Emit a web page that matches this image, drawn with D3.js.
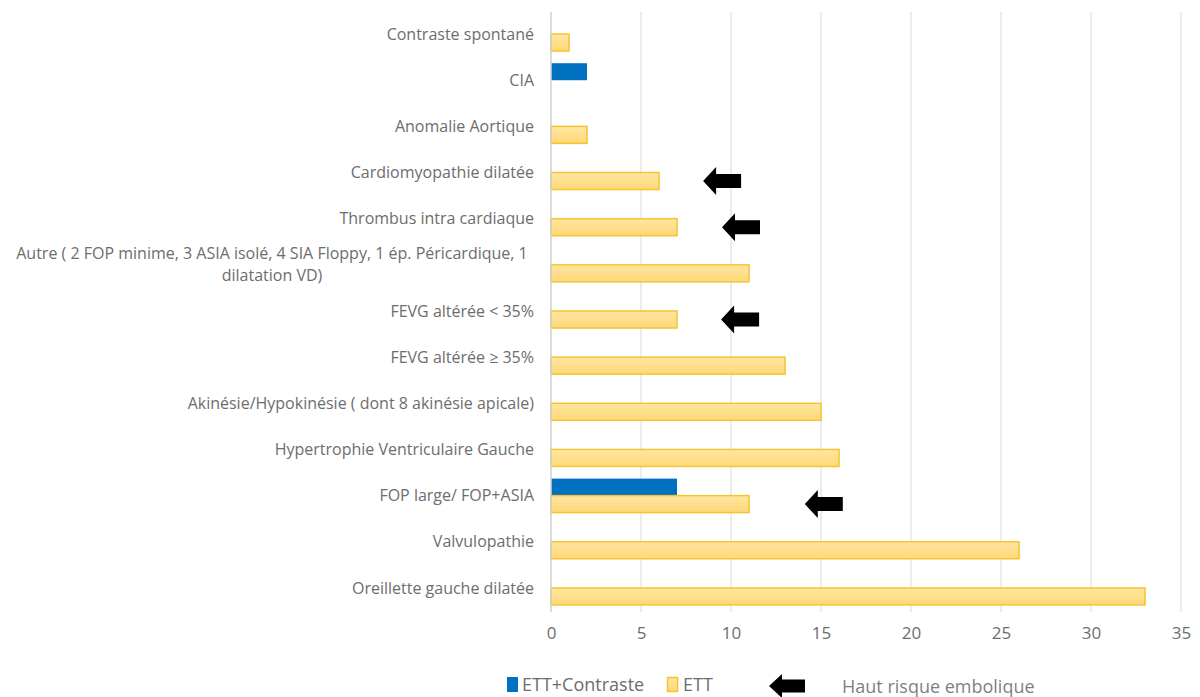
<!DOCTYPE html>
<html>
<head>
<meta charset="utf-8">
<script src="https://cdn.jsdelivr.net/npm/d3@7"></script>
<style>
  html, body { margin: 0; padding: 0; background: #ffffff; }
  svg { display: block; }
</style>
</head>
<body>
<svg id="chart" width="1200" height="697"></svg>
<script>
// ---- data ----
const categories = [
  "Contraste spontané",
  "CIA",
  "Anomalie Aortique",
  "Cardiomyopathie dilatée",
  "Thrombus intra cardiaque",
  "Autre ( 2 FOP minime, 3 ASIA isolé, 4 SIA Floppy, 1 ép. Péricardique, 1|dilatation VD)",
  "FEVG altérée < 35%",
  "FEVG altérée ≥ 35%",
  "Akinésie/Hypokinésie ( dont 8 akinésie apicale)",
  "Hypertrophie Ventriculaire Gauche",
  "FOP large/ FOP+ASIA",
  "Valvulopathie",
  "Oreillette gauche dilatée"
];
const seriesNames = ["ETT+Contraste", "ETT"];
const ettContraste = [0, 2, 0, 0, 0, 0, 0, 0, 0, 0, 7, 0, 0];
const ett = [1, 0, 2, 6, 7, 11, 7, 13, 15, 16, 11, 26, 33];
const xTicks = [0, 5, 10, 15, 20, 25, 30, 35];
const highRiskCats = ["Cardiomyopathie dilatée", "Thrombus intra cardiaque", "FEVG altérée < 35%", "FOP large/ FOP+ASIA"];
const highRiskX = [8.45, 9.5, 9.45, 14.1];
const legendArrowLabel = "Haut risque embolique";

// ---- layout ----
const svg = d3.select("#chart");
const x = d3.scaleLinear().domain([0, 35]).range([551, 1181]);
const y = d3.scaleBand().domain(categories).range([11, 611]).padding(0);
const sub = d3.scaleBand().domain(seriesNames).range([-17, 17]).padding(0);

const labelColor = "#6d6d6d";
const font = "'Open Sans', sans-serif";

const defs = svg.append("defs");
const grad = defs.append("linearGradient").attr("id", "ettGrad")
  .attr("x1", 0).attr("y1", 0).attr("x2", 0).attr("y2", 1);
grad.append("stop").attr("offset", "0%").attr("stop-color", "#ffe6a3");
grad.append("stop").attr("offset", "100%").attr("stop-color", "#ffd877");

// gridlines
svg.append("g").selectAll("line").data(xTicks.slice(1)).join("line")
  .attr("x1", d => x(d)).attr("x2", d => x(d))
  .attr("y1", 12).attr("y2", 612)
  .attr("stroke", "#d9d9d9").attr("stroke-width", 1);

// x axis tick labels
const xAxis = d3.axisBottom(x).tickValues(xTicks).tickSize(0).tickPadding(0);
const gx = svg.append("g").attr("transform", "translate(0,627)").call(xAxis);
gx.select(".domain").remove();
gx.selectAll("text")
  .attr("font-family", font).attr("font-size", 17).attr("fill", labelColor)
  .attr("dy", "0.71em");

// bars
const rows = categories.map((c, i) => ({ cat: c, vals: [ettContraste[i], ett[i]] }));
const barData = [];
rows.forEach(r => r.vals.forEach((v, j) => { if (v > 0) barData.push({ cat: r.cat, series: seriesNames[j], v }); }));

svg.append("g").selectAll("rect").data(barData).join("rect")
  .attr("x", x(0))
  .attr("y", d => y(d.cat) + y.bandwidth() / 2 + sub(d.series))
  .attr("width", d => x(d.v) - x(0))
  .attr("height", sub.bandwidth())
  .attr("fill", d => d.series === "ETT" ? "url(#ettGrad)" : "#0070c0")
  .attr("stroke", d => d.series === "ETT" ? "#f5c431" : "#0070c0")
  .attr("stroke-width", d => d.series === "ETT" ? 1.5 : 0);

// y axis line
svg.append("line")
  .attr("x1", x(0)).attr("x2", x(0)).attr("y1", 12).attr("y2", 612)
  .attr("stroke", "#d0d0d0").attr("stroke-width", 1.5);

// category labels
const gl = svg.append("g");
categories.forEach(c => {
  const cy = y(c) + y.bandwidth() / 2;
  const lines = c.split("|");
  if (lines.length === 1) {
    gl.append("text").attr("x", 534).attr("y", cy).attr("dy", "0.35em")
      .attr("text-anchor", "end").attr("font-family", font).attr("font-size", 16)
      .attr("fill", labelColor).text(lines[0]);
  } else {
    lines.forEach((t, k) => {
      gl.append("text").attr("x", 272).attr("y", cy + (k - (lines.length - 1) / 2) * 22).attr("dy", "0.35em")
        .attr("text-anchor", "middle").attr("font-family", font).attr("font-size", 16)
        .attr("fill", labelColor).text(t);
    });
  }
});

// arrow shape
function arrowPath(len, headLen, headH, shaftH) {
  return `M0,0 L${headLen},${-headH / 2} L${headLen},${-shaftH / 2} L${len},${-shaftH / 2} L${len},${shaftH / 2} L${headLen},${shaftH / 2} L${headLen},${headH / 2} Z`;
}
svg.append("g").selectAll("path").data(highRiskCats.map((c, i) => ({ cat: c, v: highRiskX[i] }))).join("path")
  .attr("d", arrowPath(38, 13, 28, 14))
  .attr("transform", d => `translate(${x(d.v)},${y(d.cat) + y.bandwidth() / 2 + sub("ETT") + sub.bandwidth() / 2})`)
  .attr("fill", "#000");

// legend
const lg = svg.append("g");
lg.append("rect").attr("x", 507).attr("y", 677).attr("width", 11).attr("height", 15).attr("fill", "#0070c0");
lg.append("text").attr("x", 522).attr("y", 691).attr("font-family", font).attr("font-size", 18)
  .attr("fill", labelColor).text(seriesNames[0]);
lg.append("rect").attr("x", 667.5).attr("y", 677.5).attr("width", 10).attr("height", 14)
  .attr("fill", "url(#ettGrad)").attr("stroke", "#f5c431").attr("stroke-width", 1.5);
lg.append("text").attr("x", 683).attr("y", 691).attr("font-family", font).attr("font-size", 18)
  .attr("fill", labelColor).text(seriesNames[1]);
lg.append("path").attr("d", arrowPath(36, 13, 24, 13))
  .attr("transform", "translate(769,686)").attr("fill", "#000");
lg.append("text").attr("x", 842).attr("y", 693).attr("font-family", font).attr("font-size", 18)
  .attr("fill", "#7f7f7f").text(legendArrowLabel);
</script>
</body>
</html>
